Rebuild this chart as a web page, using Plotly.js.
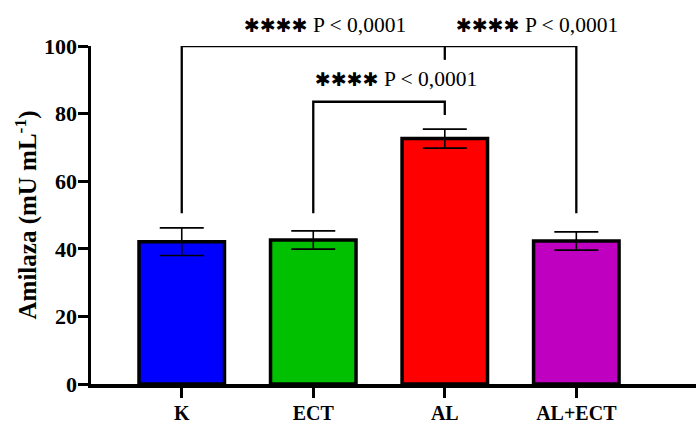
<!DOCTYPE html>
<html>
<head>
<meta charset="utf-8">
<script src="https://cdn.plot.ly/plotly-3.0.1.min.js"></script>
<style>html,body{margin:0;padding:0;background:#fff;}#chart{width:696px;height:424px;}</style>
</head>
<body>
<div id="chart"></div>
<script>
const categories = ["K", "ECT", "AL", "AL+ECT"];
const means = [42.1, 42.6, 72.6, 42.3];
const sds = [4.1, 2.7, 2.8, 2.7];
const colors = ["#0000FF", "#00C000", "#FF0000", "#C000C0"];
const yTicks = [0, 20, 40, 60, 80, 100];
const sigLabel = "****";
const pLabel = "P &lt; 0,0001";

const xs = categories.map((c, i) => i);
const starHtml = '<span style="font-family:DejaVu Sans;font-size:19px">' + sigLabel.replace(/\*/g, "\u2731") + '</span>';

const trace = {
  type: "bar",
  x: xs,
  y: means,
  width: 0.65,
  marker: { color: colors, line: { color: "#000", width: 3.5 } },
  error_y: { type: "data", array: sds, visible: true, color: "#000", thickness: 1.6, width: 22 },
  hoverinfo: "skip"
};

const lw = 2.3;
const shapes = [
  { type: "path", path: `M 0,50.5 L 0,100 L 3,100 L 3,50.5`, xref: "x", yref: "y", line: { color: "#000", width: lw } },
  { type: "line", x0: 2, x1: 2, y0: 100, y1: 95.9, xref: "x", yref: "y", line: { color: "#000", width: lw } },
  { type: "path", path: `M 1,50.5 L 1,83.5 L 2,83.5 L 2,79.6`, xref: "x", yref: "y", line: { color: "#000", width: lw } }
];

const annFont = { family: "Liberation Serif, Times New Roman, serif", size: 21.5, color: "#000" };
const annotations = [
  { x: 1.09, y: 1.063, yref: "paper", text: starHtml + " " + pLabel },
  { x: 2.70, y: 1.063, yref: "paper", text: starHtml + " " + pLabel },
  { x: 1.63, y: 90.2, yref: "y", text: starHtml + " " + pLabel }
].map(a => Object.assign({ xref: "x", showarrow: false, font: annFont, xanchor: "center", yanchor: "middle" }, a));

const layout = {
  width: 696, height: 424,
  margin: { l: 91, r: 0, t: 46, b: 40, pad: 0 },
  paper_bgcolor: "#fff", plot_bgcolor: "#fff",
  showlegend: false,
  font: { family: "Liberation Serif, Times New Roman, serif", color: "#000" },
  xaxis: {
    range: [-0.69, 3.91],
    tickvals: xs, ticktext: categories,
    showgrid: false, zeroline: false,
    showline: true, linecolor: "#000", linewidth: 3.5,
    ticks: "outside", ticklen: 10, tickwidth: 3, tickcolor: "#000",
    ticklabelstandoff: -2,
    tickfont: { family: "Liberation Serif, Times New Roman, serif", size: 20, color: "#000", weight: "bold" },
    fixedrange: true
  },
  yaxis: {
    range: [0, 100],
    tickvals: yTicks,
    showgrid: false, zeroline: false,
    showline: true, linecolor: "#000", linewidth: 3.5,
    ticks: "outside", ticklen: 10, tickwidth: 3, tickcolor: "#000",
    ticklabelstandoff: -4,
    tickfont: { family: "Liberation Serif, Times New Roman, serif", size: 22, color: "#000", weight: "bold" },
    title: { text: "Amilaza (mU mL<sup>-1</sup>)", standoff: 1,
      font: { family: "Liberation Serif, Times New Roman, serif", size: 25, color: "#000", weight: "bold" } },
    automargin: false,
    fixedrange: true
  },
  shapes: shapes,
  annotations: annotations,
  bargap: 0.35
};

Plotly.newPlot("chart", [trace], layout, { displayModeBar: false, staticPlot: true });
</script>
</body>
</html>
